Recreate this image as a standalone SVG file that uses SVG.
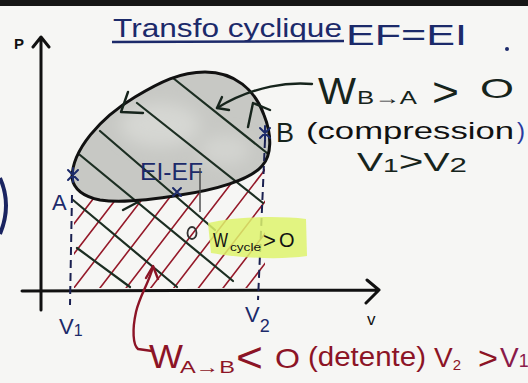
<svg xmlns="http://www.w3.org/2000/svg" width="528" height="383" viewBox="0 0 528 383">
<defs>
<style>
text{font-family:"Liberation Sans","DejaVu Sans",sans-serif}
.navy{fill:#1c2a6a}
.ink{fill:#16241c}
.red{fill:#8c1426}
.ax{stroke:#111;stroke-width:3;fill:none;stroke-linecap:round;stroke-linejoin:round}
.hatch{stroke:#1c2e22;stroke-width:2.2;fill:none;stroke-linecap:round}
.rh{stroke:#951a2a;stroke-width:1.6;fill:none;stroke-linecap:round}
.dash{stroke:#1a2050;stroke-width:2;stroke-dasharray:8 5;fill:none}
.star{stroke:#1c2a6a;stroke-width:2;fill:none;stroke-linecap:round}
.pen{stroke:#16241c;stroke-width:2.4;fill:none;stroke-linecap:round;stroke-linejoin:round}
.rpen{stroke:#8c1426;stroke-width:2.4;fill:none;stroke-linecap:round;stroke-linejoin:round}
</style>
<filter id="soft" x="-50%" y="-50%" width="200%" height="200%"><feGaussianBlur stdDeviation="8"/></filter>
<clipPath id="below">
<path d="M72,178 C74,190 85,197 100,200 C120,203 150,200 180,195 C215,190 250,180 262,166 C268,160 268,150 268,140 L265,140 L265,288 L74,288 L74,178 Z"/>
</clipPath>
<clipPath id="inside">
<path d="M72,178 C72,150 100,118 135,97 C160,82 180,72 205,72 C235,72 255,90 264,115 C272,135 272,155 262,166 C250,180 215,190 180,195 C150,200 120,203 100,200 C85,197 74,190 72,178 Z"/>
</clipPath>
</defs>
<rect width="528" height="383" fill="#f6f6f4"/>
<rect width="528" height="6" fill="#161616"/>

<g id="left-mark"><path d="M0,178 Q12,205 0,234" stroke="#1a2460" stroke-width="4" fill="none"/></g>

<g id="title">
<text class="navy" x="113" y="37" font-size="25" textLength="229" lengthAdjust="spacingAndGlyphs">Transfo cyclique</text>
<path d="M112,42 L344,41" stroke="#1c2a6a" stroke-width="2.5" fill="none"/>
<text class="navy" x="346" y="45" font-size="30" textLength="121" lengthAdjust="spacingAndGlyphs">EF=EI</text>
<circle cx="507" cy="49" r="2" fill="#1c2a6a"/>
</g>

<g id="red-hatch" clip-path="url(#below)">
<path class="rh" d="M21.5,292 L138.5,140 M44.6,292 L161.5,140 M70.8,292 L187.7,140 M96.9,292 L213.8,140 M123.1,292 L240,140 M147.7,292 L264.6,140 M170.8,292 L287.7,140 M195.4,292 L312.3,140 M220,292 L336.9,140 M243.1,292 L360,140"/>
</g>

<g id="cycle">
<path d="M72,178 C72,150 100,118 135,97 C160,82 180,72 205,72 C235,72 255,90 264,115 C272,135 272,155 262,166 C250,180 215,190 180,195 C150,200 120,203 100,200 C85,197 74,190 72,178 Z" fill="#c7c8c4"/>
<g clip-path="url(#inside)" filter="url(#soft)">
<ellipse cx="160" cy="125" rx="40" ry="22" fill="#d6d7d3"/>
<ellipse cx="225" cy="150" rx="25" ry="15" fill="#d3d4d0"/>
</g>
</g>

<g id="hatch">
<path class="hatch" d="M173,78 L267,153 M137,103 L263,203 M100,131 L215,230 M80,155 L233,281 M73,200 L177,287 M77,248 L130,287"/>
</g>

<g id="cycle-outline">
<path d="M72,178 C72,150 100,118 135,97 C160,82 180,72 205,72 C235,72 255,90 264,115 C272,135 272,155 262,166 C250,180 215,190 180,195 C150,200 120,203 100,200 C85,197 74,190 72,178 Z" fill="none" stroke="#111" stroke-width="3"/>
<path class="pen" d="M128,92 L121,112 L143,113" stroke="#1a2050"/>
<path class="pen" d="M248,127 L253,103 L270,110" stroke="#1a2050"/>
<path class="pen" d="M123,210 L138,202" stroke="#1a2050"/>
</g>

<g id="stars">
<path class="star" d="M68,170 L78,180 M78,170 L68,180 M73,168 L73,182"/>
<path class="star" d="M260,128 L270,138 M270,128 L260,138 M265,126 L265,140"/>
<path class="star" d="M173,188 L181,196 M181,188 L173,196"/>
</g>

<g id="axes">
<path class="ax" d="M41,310 L41,38 M33,47 L41,37 L49,47"/>
<path class="ax" d="M22,291 L379,290 M367,280 L379,290 L366,303"/>
<text x="14" y="49" font-size="15" font-weight="bold" fill="#111">P</text>
<text x="367" y="325" font-size="17" fill="#111">v</text>
<path class="dash" d="M72,195 L70,305"/>
<path class="dash" d="M265,140 L258,300"/>
<text class="navy" x="59" y="334" font-size="22">V<tspan font-size="16" dy="2">1</tspan></text>
<text class="navy" x="245" y="322" font-size="22">V<tspan font-size="18" dy="10">2</tspan></text>
</g>

<g id="label-A"><text class="navy" x="52" y="210" font-size="22">A</text></g>
<g id="label-B"><text class="ink" x="276" y="142" font-size="27">B</text></g>

<g id="label-EIEF">
<text class="navy" x="140" y="180" font-size="24" textLength="63" lengthAdjust="spacingAndGlyphs">EI-EF</text>
<path d="M200,168 L200,212" stroke="#444" stroke-width="1.4" fill="none"/>
<ellipse cx="192" cy="233" rx="4.5" ry="6" stroke="#333" stroke-width="1.8" fill="none"/>
</g>

<g id="label-wcycle">
<path d="M208,223 C240,216 280,216 306,219 L307,256 C280,260 240,258 211,253 Z" fill="#def36c" opacity="0.85"/>
<text x="213" y="247" font-size="20" fill="#111" textLength="15" lengthAdjust="spacingAndGlyphs">W</text>
<text x="230" y="251" font-size="11" fill="#111" textLength="31" lengthAdjust="spacingAndGlyphs">cycle</text>
<text x="263" y="248" font-size="22" fill="#111">&gt;</text>
<text x="279" y="247" font-size="20" fill="#111">O</text>
</g>

<g id="label-WBA">
<text class="ink" x="318" y="104" font-size="37" textLength="38" lengthAdjust="spacingAndGlyphs">W</text>
<text class="ink" x="357" y="104" font-size="18" textLength="60" lengthAdjust="spacingAndGlyphs">B→A</text>
<text class="ink" x="432" y="106" font-size="40" textLength="27" lengthAdjust="spacingAndGlyphs">&gt;</text>
<text class="ink" x="480" y="98" font-size="28" textLength="34" lengthAdjust="spacingAndGlyphs">O</text>
<text x="306" y="139" font-size="24" fill="#111" textLength="208" lengthAdjust="spacingAndGlyphs">(compression</text>
<text x="517" y="139" font-size="24" fill="#2a3aa0">)</text>
<text class="ink" x="357" y="171" font-size="25" textLength="110" lengthAdjust="spacingAndGlyphs">V<tspan font-size="18" dy="1">1</tspan><tspan font-size="27" dy="-1">&gt;</tspan>V<tspan font-size="20" dy="1">2</tspan></text>
</g>

<g id="label-WAB">
<text class="red" x="149" y="368" font-size="33" textLength="34" lengthAdjust="spacingAndGlyphs">W</text>
<text class="red" x="180" y="373" font-size="17" textLength="55" lengthAdjust="spacingAndGlyphs">A→B</text>
<text class="red" x="236" y="372" font-size="42" textLength="27" lengthAdjust="spacingAndGlyphs">&lt;</text>
<text class="red" x="275" y="368" font-size="28" textLength="25" lengthAdjust="spacingAndGlyphs">O</text>
<text class="red" x="308" y="366" font-size="27" textLength="118" lengthAdjust="spacingAndGlyphs">(detente)</text>
<text class="red" x="434" y="367" font-size="28">V<tspan font-size="15" dy="3">2</tspan></text>
<text class="red" x="478" y="369" font-size="32" textLength="20" lengthAdjust="spacingAndGlyphs">&gt;</text>
<text x="500" y="367" font-size="28" fill="#8a1a4a">V<tspan font-size="18">1</tspan></text>
</g>

<g id="connectors">
<path class="pen" d="M312,84 C290,82 255,85 217,108"/>
<path class="pen" d="M222,97 L217,108 L229,110"/>
<path class="rpen" d="M153,267 C148,285 140,295 136,312 C132,330 133,345 138,349 L152,351"/>
<path class="rpen" d="M146,278 L153,266 L158,279"/>
</g>
</svg>
